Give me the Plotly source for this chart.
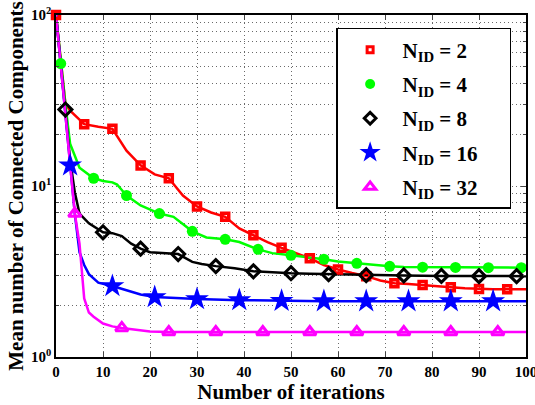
import plotly.graph_objects as go

# ---------------- data ----------------
labels = ["N<sub>ID</sub> = 2", "N<sub>ID</sub> = 4", "N<sub>ID</sub> = 8",
          "N<sub>ID</sub> = 16", "N<sub>ID</sub> = 32"]

red_x = [0, 1, 2, 3, 6, 9, 12, 15, 18, 21, 24, 27, 30, 33, 36, 39, 42, 45, 48, 51,
         54, 57, 60, 63, 66, 69, 72, 75, 78, 81, 84, 87, 90, 93, 96, 100]
red_y = [100, 55, 30.3, 27.6, 23.0, 22.2, 21.6, 16.1, 13.2, 11.7, 11.1, 8.8, 7.6, 7.0,
         6.6, 5.65, 5.15, 4.7, 4.35, 4.05, 3.78, 3.45, 3.25, 3.1, 2.97, 2.8, 2.7, 2.67,
         2.64, 2.6, 2.56, 2.52, 2.5, 2.49, 2.49, 2.49]
red_mk = [0, 6, 12, 18, 24, 30, 36, 42, 48, 54, 60, 66, 72, 78, 84, 90, 96]

green_x = [0, 1, 2, 3, 5, 8, 10, 12, 13, 15, 18, 22, 25, 29, 32, 36, 39, 43, 46, 50,
           53, 57, 60, 64, 67, 71, 74, 78, 85, 92, 99, 100]
green_y = [100, 52, 30, 17.7, 12.8, 11.1, 10.7, 10.5, 10.2, 8.8, 7.7, 6.9, 6.6, 5.43,
           5.0, 4.88, 4.7, 4.26, 4.05, 3.93, 3.85, 3.73, 3.62, 3.53, 3.45, 3.39, 3.36,
           3.35, 3.34, 3.33, 3.33, 3.33]
green_mk = [1, 8, 15, 22, 29, 36, 43, 50, 57, 64, 71, 78, 85, 92, 99]

black_x = [0, 2, 3, 4, 5, 7, 10, 12, 14, 16, 18, 20, 24, 26, 29, 31, 34, 38, 42, 46,
           50, 54, 58, 62, 66, 74, 82, 90, 98, 100]
black_y = [100, 28, 14.2, 9.2, 6.9, 6.05, 5.36, 5.3, 5.1, 4.6, 4.3, 4.1, 4.02, 4.0,
           3.6, 3.5, 3.4, 3.3, 3.17, 3.12, 3.09, 3.07, 3.05, 3.03, 3.01, 3.0, 2.98,
           2.97, 2.97, 2.97]
black_mk = [2, 10, 18, 26, 34, 42, 50, 58, 66, 74, 82, 90, 98]

blue_x = [0, 3, 4, 5, 6, 7, 9, 12, 15, 18, 21, 25, 30, 39, 48, 57, 66, 75, 84, 93, 100]
blue_y = [100, 13.2, 6.9, 4.1, 3.45, 3.05, 2.72, 2.6, 2.46, 2.32, 2.24, 2.21, 2.18,
          2.15, 2.13, 2.12, 2.12, 2.12, 2.12, 2.12, 2.12]
blue_mk = [3, 12, 21, 30, 39, 48, 57, 66, 75, 84, 93]

mag_x = [0, 4, 5, 6, 7, 8, 10, 12, 14, 17, 20, 24, 34, 44, 54, 64, 74, 84, 94, 100]
mag_y = [100, 6.9, 4.6, 2.2, 1.82, 1.72, 1.57, 1.51, 1.48, 1.44, 1.41, 1.40, 1.40,
         1.40, 1.40, 1.40, 1.40, 1.40, 1.40, 1.40]
mag_mk = [4, 14, 24, 34, 44, 54, 64, 74, 84, 94]

x_ticks = [0, 10, 20, 30, 40, 50, 60, 70, 80, 90, 100]
y_ticks = [1, 10, 100]
y_ticktext = ["10<sup>0</sup>", "10<sup>1</sup>", "10<sup>2</sup>"]
y_minor = [2, 3, 4, 5, 6, 7, 8, 9, 20, 30, 40, 50, 60, 70, 80, 90]

# (x, y, marker x, colour, symbol, plot size, plot edge, legend size, legend edge)
series = [
    (red_x, red_y, red_mk, "#ff0000", "square-open", 7, 3.5, 6, 3),
    (green_x, green_y, green_mk, "#00ff00", "circle", 11, 0, 10, 0),
    (black_x, black_y, black_mk, "#000000", "diamond-open", 10, 3, 9, 3),
    (blue_x, blue_y, blue_mk, "#0000ff", "star", 18, 0, 16, 0),
    (mag_x, mag_y, mag_mk, "#ff00ff", "triangle-up-open", 11, 3, 10, 3),
]

FONT = "Liberation Serif"
GRID = "#6a6a6a"
fig = go.Figure()
for i, (xs, ys, mks, col, sym, sz, lw, lsz, llw) in enumerate(series):
    fig.add_trace(go.Scatter(x=xs, y=ys, mode="lines", line=dict(color=col, width=2.5),
                             showlegend=False, hoverinfo="skip"))
for i, (xs, ys, mks, col, sym, sz, lw, lsz, llw) in enumerate(series):
    mx = [x for x in xs if x in mks]
    my = [y for x, y in zip(xs, ys) if x in mks]
    fig.add_trace(go.Scatter(x=mx, y=my, mode="markers", showlegend=False,
                             cliponaxis=False,
                             marker=dict(color=col, symbol=sym, size=sz,
                                         line=dict(color=col, width=lw))))
# legend entries (marker only, as in the reference)
for i, (xs, ys, mks, col, sym, sz, lw, lsz, llw) in enumerate(series):
    fig.add_trace(go.Scatter(x=[None], y=[None], mode="markers",
                             name=labels[i] + "\u00a0\u00a0\u00a0\u00a0\u00a0",
                             legendgroup=f"g{i}",
                             marker=dict(color=col, symbol=sym, size=lsz,
                                         line=dict(color=col, width=llw))))

fig.update_layout(
    width=535, height=405,
    margin=dict(l=56, r=9, t=15, b=48),
    paper_bgcolor="white", plot_bgcolor="white",
    font=dict(family=FONT, color="black", weight="bold"),
    showlegend=True,
    legend=dict(x=0.596, y=0.962, xanchor="left", yanchor="top",
                bgcolor="white", bordercolor="black", borderwidth=1.5,
                itemwidth=55,
                font=dict(family=FONT, size=21, color="black", weight="bold"),
                tracegroupgap=4, traceorder="grouped"),
    xaxis=dict(range=[0, 100], tickvals=x_ticks, ticks="inside", ticklen=5,
               automargin=False, ticklabeloverflow="allow",
               showline=True, linecolor="black", linewidth=1.5, mirror="allticks",
               showgrid=True, gridcolor=GRID, griddash="1px,3px", gridwidth=1,
               zeroline=False, tickfont=dict(size=15, family=FONT, weight="bold"),
               title=dict(text="Number of iterations", standoff=2,
                          font=dict(size=21, family=FONT, weight="bold"))),
    yaxis=dict(type="log", range=[0, 2], tickvals=y_ticks, ticktext=y_ticktext,
               ticks="inside", ticklen=5, automargin=False, ticklabeloverflow="allow",
               showline=True, linecolor="black", linewidth=1.5, mirror="allticks",
               showgrid=True, gridcolor=GRID, griddash="1px,3px", gridwidth=1,
               zeroline=False, tickfont=dict(size=15, family=FONT, weight="bold"),
               minor=dict(tickvals=y_minor, ticks="inside", ticklen=3,
                          showgrid=True, gridcolor=GRID, griddash="1px,3px", gridwidth=1),
               title=dict(text="Mean number of Connected Components", standoff=2,
                          font=dict(size=21, family=FONT, weight="bold"))),
)

fig.write_html("out.html")
